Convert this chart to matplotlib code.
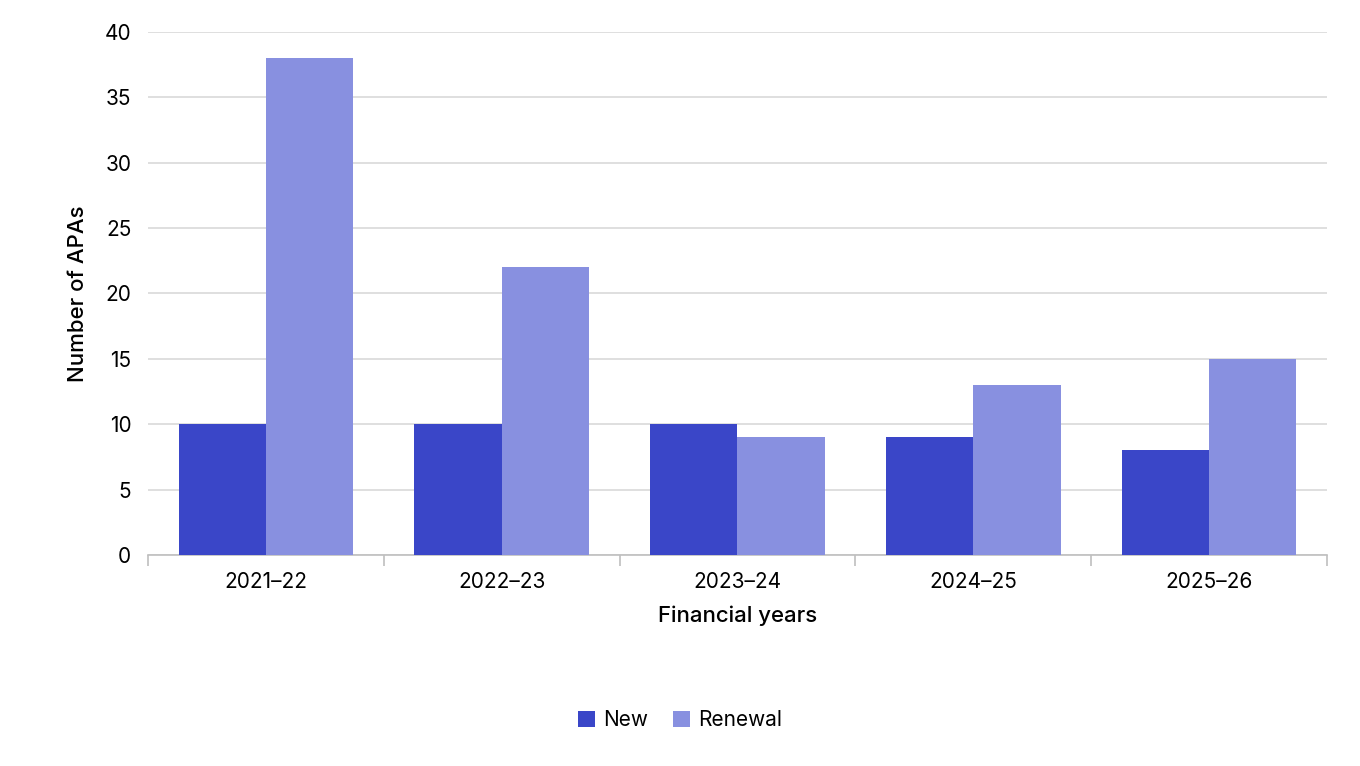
import numpy as np
import matplotlib.pyplot as plt

plt.rcParams['font.family'] = ['Inter', 'DejaVu Sans']

years = ["2021\u201322", "2022\u201323", "2023\u201324", "2024\u201325", "2025\u201326"]
new = [10, 10, 10, 9, 8]
renewal = [38, 22, 9, 13, 15]

c_new = "#3a46c8"
c_ren = "#8890e0"

fig = plt.figure(figsize=(13.6, 7.66), dpi=100)
ax = fig.add_axes([0.1088, 0.2755, 0.8669, 0.6827])

x = np.arange(len(years))
w = 0.37
ax.bar(x - w / 2, new, w, color=c_new, label="New", zorder=3)
ax.bar(x + w / 2, renewal, w, color=c_ren, label="Renewal", zorder=3)

ax.set_xlim(-0.5, len(years) - 0.5)
ax.set_ylim(0, 40)
ax.set_yticks(range(0, 41, 5))
ax.yaxis.grid(True, color="#d9d9d9", linewidth=1.2, zorder=0)
ax.tick_params(axis="y", length=0, labelsize=15, pad=12)

ax.set_xticks(x)
ax.set_xticklabels(years, fontsize=15)
ax.tick_params(axis="x", length=0, pad=12)
ax.set_xticks(np.arange(-0.5, len(years)), minor=True)
ax.tick_params(axis="x", which="minor", length=8, color="#bfbfbf", width=1.2)

for s in ["top", "right", "left"]:
    ax.spines[s].set_visible(False)
ax.spines["bottom"].set_color("#bfbfbf")
ax.spines["bottom"].set_linewidth(1.2)

ax.set_xlabel("Financial years", fontsize=16, fontweight="medium", labelpad=10)
ax.set_ylabel("Number of APAs", fontsize=16, fontweight="medium", labelpad=12)

fig.legend(loc="center", bbox_to_anchor=(0.5, 0.06), ncol=2, frameon=False,
           fontsize=15, handlelength=0.8, handleheight=0.8, handletextpad=0.4,
           columnspacing=1.2)

fig.savefig("out.png", dpi=100)
